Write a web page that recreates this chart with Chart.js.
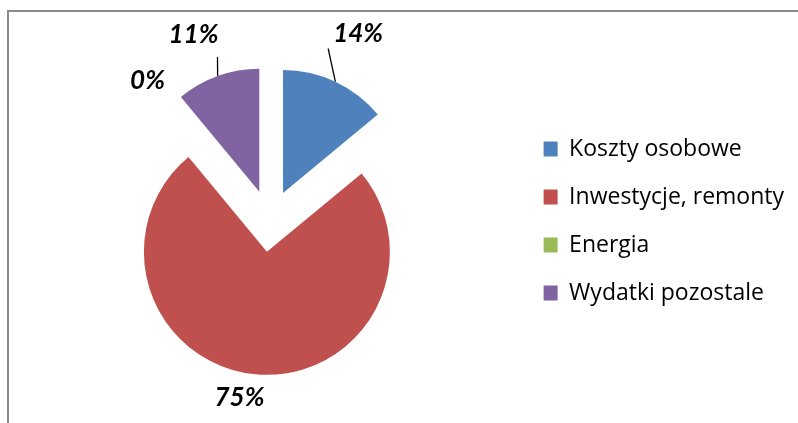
<!DOCTYPE html>
<html>
<head>
<meta charset="utf-8">
<script src="https://cdnjs.cloudflare.com/ajax/libs/Chart.js/4.4.1/chart.umd.min.js"></script>
<style>
  html, body { margin: 0; padding: 0; background: #fff; }
  #wrap { width: 798px; height: 423px; }
</style>
</head>
<body>
<div id="wrap"><canvas id="costChart" width="798" height="423"></canvas></div>
<script>
const categories = ["Koszty osobowe", "Inwestycje, remonty", "Energia", "Wydatki pozostale"];
const shares = [14, 75, 0, 11];
const sliceColors = ["#4F81BD", "#C0504D", "#9BBB59", "#8064A2"];

// only top + left edges of the chart frame show in the picture
const framePlugin = {
  id: "frame",
  beforeDraw(chart) {
    const ctx = chart.ctx;
    ctx.save();
    ctx.strokeStyle = "#8a8a8a";
    ctx.lineWidth = 2;
    ctx.beginPath();
    ctx.moveTo(8, chart.height);
    ctx.lineTo(8, 11);
    ctx.lineTo(chart.width, 11);
    ctx.stroke();
    ctx.restore();
  }
};

// chart.js "offset" also grows the radius, so push every slice out ourselves
const explode = {
  id: "explode",
  beforeDatasetDraw(chart, args, opts) {
    const ctx = chart.ctx;
    args.meta.data.forEach((arc) => {
      const p = arc.getProps(["startAngle", "endAngle"], true);
      const mid = (p.startAngle + p.endAngle) / 2;
      ctx.save();
      ctx.translate(Math.cos(mid) * opts.distance, Math.sin(mid) * opts.distance);
      arc.draw(ctx);
      ctx.restore();
    });
    return false;
  }
};

// percent labels outside the slices, with leader lines for some
const pctLabels = {
  id: "pctLabels",
  afterDatasetsDraw(chart, args, opts) {
    const ctx = chart.ctx;
    const meta = chart.getDatasetMeta(0);
    const data = chart.data.datasets[0].data;
    const total = data.reduce((a, b) => a + b, 0);
    const off = chart.options.plugins.explode.distance;
    ctx.save();
    ctx.font = opts.font;
    ctx.textAlign = "center";
    ctx.textBaseline = "middle";
    meta.data.forEach((arc, i) => {
      const p = arc.getProps(["x", "y", "startAngle", "endAngle", "outerRadius"], true);
      const mid = (p.startAngle + p.endAngle) / 2;
      const dist = p.outerRadius + off + opts.gap;
      const lx = p.x + Math.cos(mid) * dist + opts.nudge[i][0];
      const ly = p.y + Math.sin(mid) * dist + opts.nudge[i][1];
      const lead = opts.leader[i];
      if (lead) {
        const r = p.outerRadius + off;
        ctx.strokeStyle = "#000";
        ctx.lineWidth = 1.3;
        ctx.beginPath();
        ctx.moveTo(p.x + Math.cos(mid) * r, p.y + Math.sin(mid) * r);
        ctx.lineTo(lx + lead[0], ly + lead[1]);
        ctx.stroke();
      }
      ctx.fillStyle = "#000";
      ctx.fillText(Math.round(data[i] / total * 100) + "%", lx, ly);
    });
    ctx.restore();
  }
};

const ctx = document.getElementById("costChart").getContext("2d");

new Chart(ctx, {
  type: "pie",
  data: {
    labels: categories,
    datasets: [{
      data: shares,
      backgroundColor: sliceColors,
      borderWidth: 0,
      hoverOffset: 0
    }]
  },
  options: {
    responsive: false,
    animation: false,
    devicePixelRatio: 1,
    layout: {
      padding: { top: 98, bottom: 79, left: 21, right: 4 }
    },
    plugins: {
      legend: {
        position: "right",
        labels: {
          boxWidth: 14,
          boxHeight: 15,
          padding: 25,
          color: "#000",
          font: { family: "Open Sans", size: 23 }
        }
      },
      tooltip: { enabled: false },
      explode: { distance: 31 },
      pctLabels: {
        font: "italic bold 26px Lato",
        gap: 30,
        nudge: [[10, -21], [-13, -7], [-5, 1], [-14, -13]],
        leader: [[-30, 15], null, null, [24, 22]]
      }
    }
  },
  plugins: [framePlugin, explode, pctLabels]
});
</script>
</body>
</html>
